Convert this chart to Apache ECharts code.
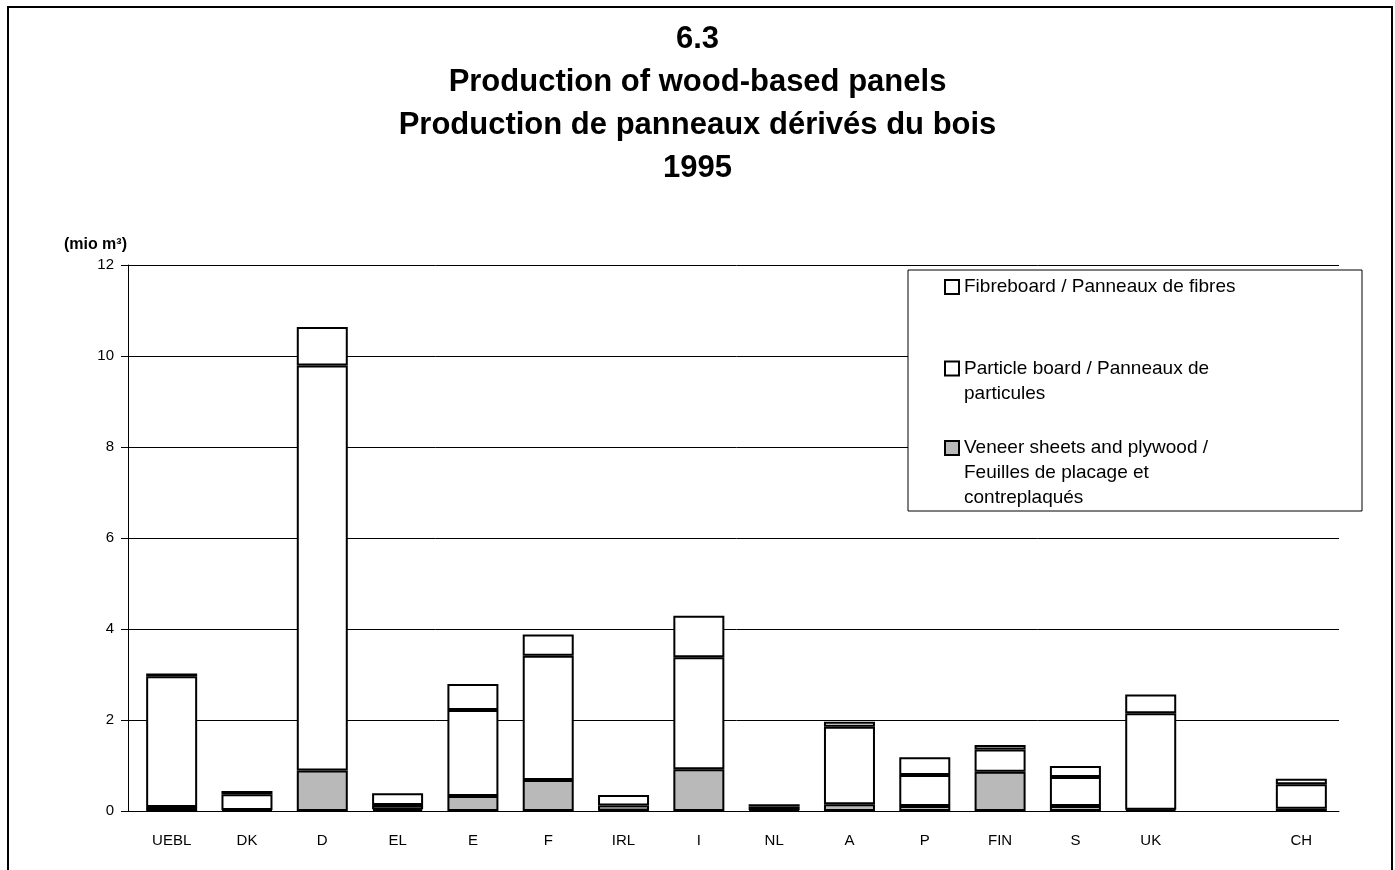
<!DOCTYPE html>
<html>
<head>
<meta charset="utf-8">
<script src="https://cdn.jsdelivr.net/npm/echarts@6/dist/echarts.min.js"></script>
<style>
    html, body { margin: 0; padding: 0; background: #fff; }
    #chart { width: 1395px; height: 870px; }
</style>
</head>
<body>
<div id="chart"></div>
<script>
// countries (one empty slot between UK and CH, as in the original)
var categories = ['UEBL', 'DK', 'D', 'EL', 'E', 'F', 'IRL', 'I', 'NL', 'A', 'P', 'FIN', 'S', 'UK', '', 'CH'];

// mio m3
var veneer = [0.09, 0.02, 0.89, 0.04, 0.33, 0.68, 0.01, 0.92, 0.02, 0.15, 0.11, 0.86, 0.11, 0.03, null, 0.05];
var particle = [2.87, 0.35, 8.90, 0.09, 1.89, 2.73, 0.11, 2.46, 0.08, 1.70, 0.68, 0.49, 0.64, 2.12, null, 0.54];
var fibre = [0.06, 0.07, 0.85, 0.26, 0.57, 0.47, 0.23, 0.91, 0.05, 0.11, 0.39, 0.10, 0.24, 0.41, null, 0.12];

var yTicks = [0, 2, 4, 6, 8, 10, 12];

var nameFibre = 'Fibreboard / Panneaux de fibres';
var nameParticle = 'Particle board / Panneaux de\nparticules';
var nameVeneer = 'Veneer sheets and plywood /\nFeuilles de placage et\ncontreplaqués';

var font = 'Liberation Sans, Arial, Helvetica, sans-serif';
var lineH = 25;

var chart = echarts.init(document.getElementById('chart'));

// one legend per entry so each can sit where the original has it
function legendAt(name, top) {
    var lines = name.split('\n').length;
    return {
        data: [name],
        orient: 'vertical',
        left: 944,
        top: top,
        padding: 0,
        itemWidth: 14,
        itemHeight: 14,
        itemGap: 0,
        selectedMode: false,
        icon: 'rect',
        // blank lines above keep the icon level with the first line
        formatter: function (n) {
            return new Array(lines).join('\n') + n;
        },
        textStyle: { fontFamily: font, fontSize: 19, color: '#000', lineHeight: lineH },
        itemStyle: { borderColor: '#000', borderWidth: 2 },
        z: 5
    };
}

function barSeries(name, values, color) {
    return {
        name: name,
        type: 'bar',
        stack: 'total',
        barWidth: 51,
        data: values,
        itemStyle: { color: color, borderColor: '#000', borderWidth: 2 },
        emphasis: { disabled: true }
    };
}

var option = {
    animation: false,
    backgroundColor: '#fff',
    textStyle: { fontFamily: font },
    title: {
        text: '6.3\nProduction of wood-based panels\nProduction de panneaux dérivés du bois\n1995',
        left: 'center',
        top: 13,
        textStyle: { fontFamily: font, fontSize: 31, fontWeight: 'bold', color: '#000', lineHeight: 43 }
    },
    graphic: [
        {
            type: 'rect',
            shape: { x: 8, y: 7, width: 1384, height: 880 },
            style: { fill: null, stroke: '#000', lineWidth: 2 },
            z: 1
        },
        {
            type: 'rect',
            shape: { x: 908, y: 270, width: 454, height: 241 },
            style: { fill: '#fff', stroke: '#000', lineWidth: 1 },
            z: 3
        }
    ],
    legend: [
        legendAt(nameFibre, 274.5),
        legendAt(nameParticle, 331),
        legendAt(nameVeneer, 385.5)
    ],
    grid: { left: 134, right: 56, top: 265, bottom: 59 },
    xAxis: {
        type: 'category',
        data: categories,
        axisLine: { lineStyle: { color: '#000', width: 1 } },
        axisTick: { show: false },
        axisLabel: { color: '#000', fontSize: 15, margin: 22 }
    },
    yAxis: [
        {
            // gridlines; short ticks bridge the gap to the axis line
            type: 'value',
            min: yTicks[0],
            max: yTicks[yTicks.length - 1],
            interval: 2,
            axisLine: { show: false },
            axisTick: { show: true, length: 6, lineStyle: { color: '#000' } },
            axisLabel: { show: false },
            splitLine: { lineStyle: { color: '#000', width: 1 } }
        },
        {
            type: 'value',
            min: yTicks[0],
            max: yTicks[yTicks.length - 1],
            interval: 2,
            position: 'left',
            offset: 6,
            name: '(mio m³)',
            nameLocation: 'end',
            nameGap: 12,
            nameTextStyle: { color: '#000', fontSize: 16, fontWeight: 'bold', align: 'right', padding: [0, 1, 0, 0] },
            axisLine: { show: true, lineStyle: { color: '#000', width: 1 } },
            axisTick: { show: true, length: 7, lineStyle: { color: '#000' } },
            axisLabel: { color: '#000', fontSize: 15, margin: 14 },
            splitLine: { show: false }
        }
    ],
    series: [
        barSeries(nameVeneer, veneer, '#b9b9b9'),
        barSeries(nameParticle, particle, '#fff'),
        barSeries(nameFibre, fibre, '#fff')
    ]
};

chart.setOption(option);
</script>
</body>
</html>
